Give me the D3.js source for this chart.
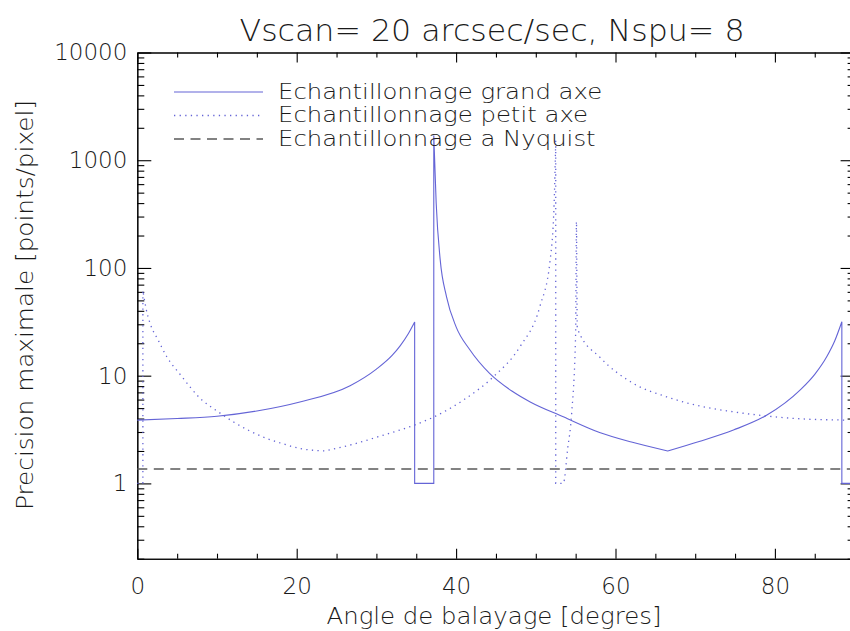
<!DOCTYPE html>
<meta charset="utf-8">
<script src="https://d3js.org/d3.v7.min.js"></script>
<style>
  body { margin: 0; background: white; }
  text { font-family: "DejaVu Sans", sans-serif; font-weight: 200; fill: #1a1a1a; }
</style>
<div id="chart"></div>
<script>

// values (angle in degrees, precision in points/pixel)
// a repeated angle marks a vertical jump in the curve
const grandAngle = [0, 5, 10, 15, 20.4, 26.7, 30, 32, 33, 34, 34.8, 34.8, 37.2, 37.2, 37.5, 38.0, 38.8, 40.0, 41.7, 44.2, 47, 49.3, 53.45, 58, 62, 66.55, 70.5, 74.8, 79, 83.15, 85, 86.5, 87.5, 88.4, 88.4, 89.9];
const grandValue = [3.87, 4.0, 4.2, 4.7, 5.7, 8.06, 11.5, 15.5, 19, 24.5, 31.5, 1, 1, 1700, 400, 120, 54, 28.4, 17.5, 10.5, 7.2, 5.7, 4.15, 2.97, 2.42, 2.0, 2.45, 3.13, 4.31, 7.35, 10.3, 15, 21, 31.7, 1, 1];

const petitAngle = [0, 0.7, 0.7, 1.1, 1.6, 2.6, 3.7, 5.5, 7.9, 10, 12.05, 14, 16.2, 18.3, 20.4, 23.55, 26.7, 30.5, 34.85, 37.1, 40.9, 44.7, 48, 50.5, 51.8, 52.3, 52.5, 52.5, 53.45, 54.0, 54.5, 55.0, 55.1, 55.2, 55.35, 58.05, 62.2, 66.4, 70.6, 74.8, 79, 83.15, 89];
const petitValue = [1, 1, 62, 42, 30.6, 21.5, 15, 10, 6.15, 4.7, 3.73, 3.1, 2.62, 2.33, 2.11, 2.0, 2.27, 2.75, 3.5, 4.1, 5.93, 9.8, 18.5, 43.6, 118, 398, 1540, 1, 1, 2.1, 4.47, 25, 269, 28, 26, 14.8, 8.5, 6.37, 5.22, 4.62, 4.22, 3.98, 3.87];

const nyquistAngle = [0, 90];
const nyquistValue = [1.36, 1.36];

const xTicks = [0, 20, 40, 60, 80];
const yTicks = [1, 10, 100, 1000, 10000];
const legendLabels = ["Echantillonnage grand axe", "Echantillonnage petit axe", "Echantillonnage a Nyquist"];

const width = 850, height = 631;
const plotLeft = 137.3, plotRight = 854.6, plotTop = 52.5, plotBottom = 558.7;
const blue = "#6464d6";

const svg = d3.select("#chart").append("svg")
    .attr("width", width)
    .attr("height", height);

const x = d3.scaleLinear().domain([0, 90]).range([plotLeft, plotRight]);
const y = d3.scaleLog().domain([0.2, 10000]).range([plotBottom, plotTop]);

// minor tick positions
const xMinor = d3.range(0, 91, 5).filter(d => d % 20 != 0);
const yMinor = [];
[0.1, 1, 10, 100, 1000].forEach(p => {
  for (let k = 2; k <= 9; k++) if (p * k >= 0.2 && p * k < 10000) yMinor.push(p * k);
});

function axis(g, maker, scale, vals, size, fmt) {
  g.call(maker(scale).tickValues(vals).tickSize(size).tickSizeOuter(0).tickFormat(fmt));
}

// bottom axis
const gb = svg.append("g").attr("transform", `translate(0,${plotBottom})`);
axis(gb, d3.axisBottom, x, xTicks, -10, d => d);
gb.call(g => g.selectAll(".tick text").attr("y", 19).style("font-size", "23px"));
axis(svg.append("g").attr("transform", `translate(0,${plotBottom})`), d3.axisBottom, x, xMinor, -5, "");

// top axis
axis(svg.append("g").attr("transform", `translate(0,${plotTop})`), d3.axisTop, x, xTicks, -10, "");
axis(svg.append("g").attr("transform", `translate(0,${plotTop})`), d3.axisTop, x, xMinor, -5, "");

// left axis
const gl = svg.append("g").attr("transform", `translate(${plotLeft},0)`);
axis(gl, d3.axisLeft, y, yTicks, -14, d => d);
gl.call(g => g.selectAll(".tick text").attr("x", -10).style("font-size", "23px"));
axis(svg.append("g").attr("transform", `translate(${plotLeft},0)`), d3.axisLeft, y, yMinor, -7, "");

// right axis (falls just outside the picture)
axis(svg.append("g").attr("transform", `translate(${plotRight},0)`), d3.axisRight, y, yTicks, -14, "");
axis(svg.append("g").attr("transform", `translate(${plotRight},0)`), d3.axisRight, y, yMinor, -7, "");

svg.selectAll(".domain, .tick line").attr("stroke", "#000").attr("stroke-width", 1.1);

// curves: smooth pieces, broken at vertical jumps and at sharp minima
const line = d3.line().x(d => x(d[0])).y(d => y(d[1])).curve(d3.curveMonotoneX);
function piecewise(pts) {
  const pieces = [];
  let cur = [pts[0]];
  for (let i = 1; i < pts.length; i++) {
    if (pts[i][0] === pts[i - 1][0]) { pieces.push(cur); cur = []; }
    cur.push(pts[i]);
    const isMin = i < pts.length - 1 && pts[i][1] < pts[i - 1][1] && pts[i][1] < pts[i + 1][1]
      && pts[i + 1][0] !== pts[i][0] && pts[i - 1][0] !== pts[i][0];
    if (isMin) { pieces.push(cur); cur = [pts[i]]; }
  }
  pieces.push(cur);
  return pieces.map((p, i) => { const d = line(p); return i ? "L" + d.slice(1) : d; }).join("");
}

const series = [
  {a: grandAngle, v: grandValue, color: blue, dash: null, w: 1.1},
  {a: petitAngle, v: petitValue, color: blue, dash: "1.3,4.3", w: 1.3},
  {a: nyquistAngle, v: nyquistValue, color: "#5a5a5a", dash: "10,6.5", w: 1.6}
];
series.forEach(s => {
  svg.append("path")
    .attr("d", piecewise(d3.zip(s.a, s.v)))
    .attr("fill", "none")
    .attr("stroke", s.color)
    .attr("stroke-width", s.w)
    .attr("stroke-dasharray", s.dash);
});

// legend
const legend = svg.selectAll(".legend")
  .data(series)
  .join("g")
  .attr("class", "legend")
  .attr("transform", (d, i) => `translate(174,${92 + i * 23.5})`);
legend.append("line")
  .attr("x1", 0).attr("x2", 89)
  .attr("stroke", d => d.color)
  .attr("stroke-width", d => d.w)
  .attr("stroke-dasharray", d => d.dash);
legend.append("text")
  .attr("transform", "translate(104,6.5) scale(1.16,1)")
  .style("font-size", "21px")
  .text((d, i) => legendLabels[i]);

// titles
svg.append("text")
  .attr("x", 492).attr("y", 41)
  .attr("text-anchor", "middle")
  .attr("textLength", 505)
  .attr("lengthAdjust", "spacingAndGlyphs")
  .style("font-size", "30px")
  .text("Vscan= 20 arcsec/sec, Nspu= 8");

svg.append("text")
  .attr("x", 494).attr("y", 624)
  .attr("text-anchor", "middle")
  .attr("textLength", 335)
  .attr("lengthAdjust", "spacingAndGlyphs")
  .style("font-size", "23.5px")
  .text("Angle de balayage [degres]");

svg.append("text")
  .attr("transform", `translate(33,305) rotate(-90)`)
  .attr("text-anchor", "middle")
  .attr("textLength", 410)
  .attr("lengthAdjust", "spacingAndGlyphs")
  .style("font-size", "23px")
  .text("Precision maximale [points/pixel]");

</script>
